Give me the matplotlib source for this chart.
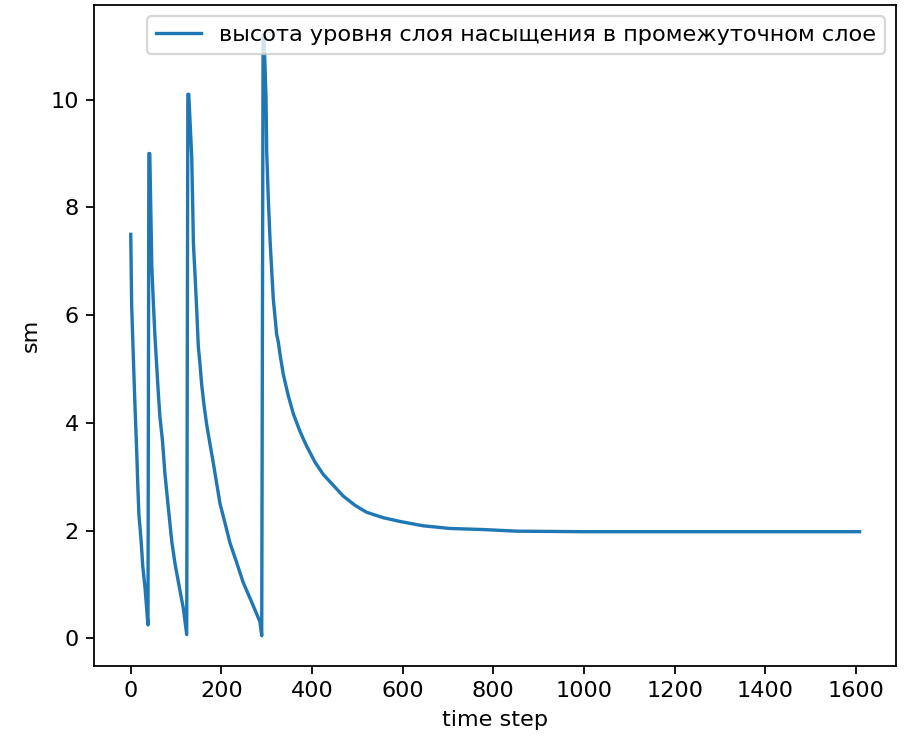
import numpy as np
import matplotlib
matplotlib.use("Agg")
import matplotlib.pyplot as plt

# точки кривой (шаг времени, высота)
seg1_t = [0, 2, 6, 9.5, 13, 15.5, 18, 23, 26.5, 31.5, 38]
seg1_h = [7.5, 6.2, 5.15, 4.28, 3.51, 2.86, 2.3, 1.8, 1.34, 0.94, 0.25]

seg2_t = [40, 42, 44.5, 46.5, 50, 53.5, 57.5, 61, 64.5, 70, 75.5, 83, 90.5, 98, 109, 116, 123.5]
seg2_h = [9.0, 9.0, 7.85, 6.9, 6.21, 5.59, 5.03, 4.53, 4.1, 3.67, 3.05, 2.42, 1.8, 1.37, 0.87, 0.56, 0.07]

seg3_t = [126, 128, 134.5, 136.8, 138.2, 141.8, 145.6, 149, 153, 156.5, 161.7, 167.5, 175,
          182.5, 189.7, 197, 208, 219, 234, 248, 267, 285, 289]
seg3_h = [10.1, 10.1, 8.95, 8.0, 7.34, 6.75, 6.09, 5.43, 5.07, 4.71, 4.33, 3.97, 3.6,
          3.24, 2.87, 2.5, 2.14, 1.77, 1.4, 1.04, 0.67, 0.31, 0.05]

seg4_t = [292, 294, 298.5, 300, 303.5, 307.5, 314.5, 322, 325.6, 329.4, 336.6, 347.7, 358.7,
          373.5, 388, 406.6, 425, 447, 469, 494.8, 520.6, 557, 594, 645, 704, 778, 851,
          1000, 1146, 1400, 1608]
seg4_h = [11.2, 11.2, 10.02, 9.02, 8.16, 7.37, 6.3, 5.64, 5.5, 5.27, 4.9, 4.5, 4.17,
          3.84, 3.57, 3.27, 3.04, 2.84, 2.64, 2.47, 2.34, 2.24, 2.17, 2.09, 2.04, 2.02, 1.99,
          1.98, 1.98, 1.98, 1.98]

t = np.array(seg1_t + seg2_t + seg3_t + seg4_t)
h = np.array(seg1_h + seg2_h + seg3_h + seg4_h)

dpi = 161
fig = plt.figure(figsize=(905 / dpi, 745 / dpi), dpi=dpi)
ax = fig.add_axes([94.3 / 905, 1 - 665.7 / 745, (896 - 94.3) / 905, (665.7 - 5) / 745])

ax.plot(t, h, label='высота уровня слоя насыщения в промежуточном слое')
ax.set_xlabel('time step')
ax.set_ylabel('sm')
ax.legend(loc='upper right')

fig.savefig('out.png', dpi=dpi)
